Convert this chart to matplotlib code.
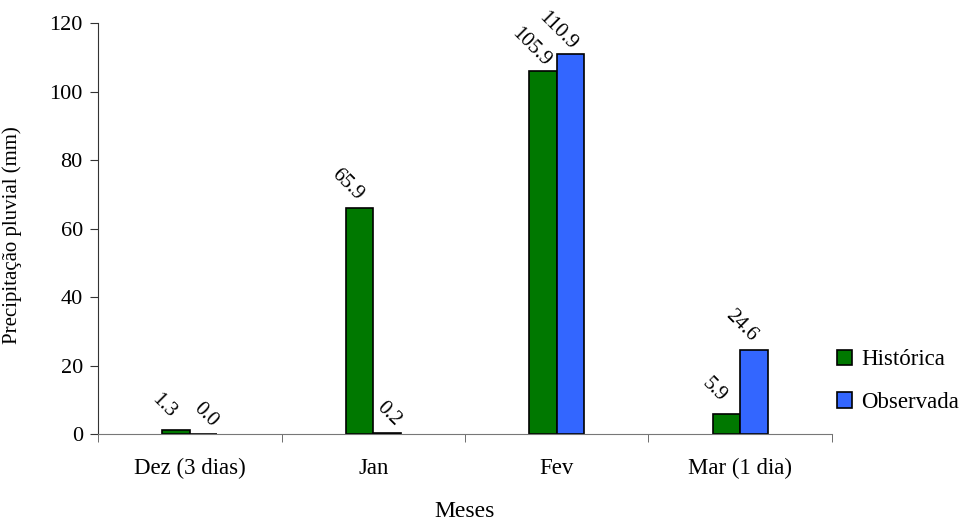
import matplotlib
matplotlib.use("Agg")
import matplotlib.pyplot as plt
import numpy as np

categories = ["Dez (3 dias)", "Jan", "Fev", "Mar (1 dia)"]
historica = [1.3, 65.9, 105.9, 5.9]
observada = [0.0, 0.2, 110.9, 24.6]
yticks = [0, 20, 40, 60, 80, 100, 120]

plt.rcParams['font.family'] = ['Liberation Serif', 'DejaVu Serif']

fig = plt.figure(figsize=(9.65, 5.25), dpi=100)
ax = fig.add_axes([0.1016, 0.1733, 0.7605, 0.7827])

x = np.arange(len(categories))
w = 0.15
green = "#007800"
blue = "#3366FF"
b1 = ax.bar(x - w/2, historica, w, color=green, edgecolor="black", linewidth=1.2, label="Histórica")
b2 = ax.bar(x + w/2, observada, w, color=blue, edgecolor="black", linewidth=1.2, label="Observada")

for bars, vals in ((b1, historica), (b2, observada)):
    for r, v in zip(bars, vals):
        off = (1.5, 14) if v < 1 else (-9, 17)
        ax.annotate(f"{v:.1f}", (r.get_x() + r.get_width()/2, r.get_height()),
                    xytext=off, textcoords="offset points",
                    ha="center", va="center", rotation=-45, fontsize=15)

ax.set_xlim(-0.5, len(categories) - 0.5)
ax.set_ylim(0, 120)
ax.set_yticks(yticks)
ax.set_yticklabels([str(t) for t in yticks], fontsize=16)
ax.set_xticks(x)
ax.set_xticklabels(categories, fontsize=16.5)
ax.set_xticks(np.arange(len(categories) + 1) - 0.5, minor=True)
ax.tick_params(axis="x", which="major", length=0, pad=17)
ax.tick_params(axis="x", which="minor", length=6, color="#555555", direction="out")
ax.tick_params(axis="y", length=6, direction="out", color="#333333", pad=5)

for s in ("top", "right"):
    ax.spines[s].set_visible(False)
ax.spines["bottom"].set_color("#777777")
ax.spines["left"].set_color("#333333")

ax.set_ylabel("Precipitação pluvial (mm)", fontsize=15, labelpad=8)
ax.yaxis.set_label_coords(-0.104, 0.485)
ax.set_xlabel("Meses", fontsize=17, labelpad=16)

fig.legend(handles=[b1, b2], loc="center left", bbox_to_anchor=(0.8674, 0.274),
           frameon=False, fontsize=16.5, handlelength=0.65, handleheight=0.65,
           handletextpad=0.4, labelspacing=0.95, borderpad=0, borderaxespad=0)

fig.savefig("out.png", dpi=100)
